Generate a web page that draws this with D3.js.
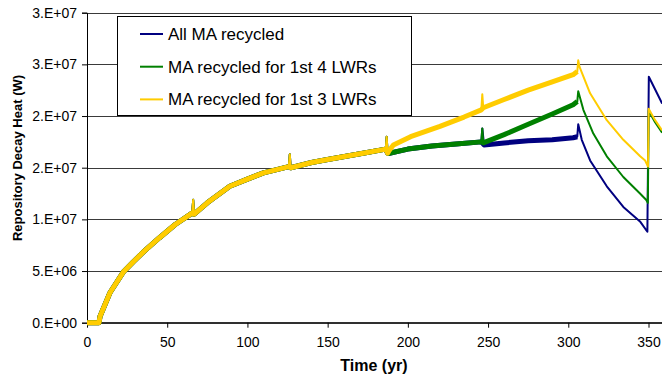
<!DOCTYPE html>
<html>
<head>
<meta charset="utf-8">
<script src="https://cdn.jsdelivr.net/npm/d3@7"></script>
<style>
  body { margin: 0; background: #fff; }
  text { font-family: "Liberation Sans", Arial, sans-serif; }
</style>
</head>
<body>
<svg class="chart" width="662" height="376"></svg>
<script>
// [year, decay heat in W].
// Up to ~187 yr all three scenarios give the same repository heat.
const sharedRamp = [
  [0, 0], [7.5, 0], [8.1, 0.6e6], [14.3, 2.9e6], [22.6, 4.9e6], [28.9, 5.9e6],
  [36.2, 7.0e6], [45, 8.2e6], [55, 9.5e6], [65.5, 10.6e6], [66.2, 11.9e6],
  [66.8, 10.5e6], [75, 11.6e6], [89, 13.2e6], [100, 13.9e6], [110, 14.5e6],
  [125.8, 15.1e6], [126.4, 16.3e6], [127, 15.0e6], [140, 15.5e6], [150, 15.8e6],
  [172, 16.4e6], [186.2, 16.8e6], [186.8, 18.0e6], [187.4, 16.4e6]
];

const allMaTail = [
  [188.5, 16.4e6], [200, 16.8e6], [215, 17.1e6], [230, 17.3e6], [245.8, 17.5e6],
  [246.4, 18.8e6], [247.5, 17.2e6], [260, 17.4e6], [275, 17.6e6], [290, 17.7e6],
  [303, 17.9e6], [305.6, 18.0e6], [306.2, 19.2e6], [308.4, 17.7e6], [313.6, 15.7e6],
  [324, 13.2e6], [334.3, 11.2e6], [344.7, 9.8e6], [349.3, 8.8e6], [350.2, 23.8e6],
  [358.5, 21.2e6]
];

const ma4Tail = [
  [188.5, 16.4e6], [200, 16.8e6], [215, 17.1e6], [230, 17.3e6], [245.8, 17.5e6],
  [246.4, 18.8e6], [247, 17.4e6], [260, 18.2e6], [275, 19.2e6], [290, 20.2e6],
  [303, 21.1e6], [305.6, 21.4e6], [306.2, 22.4e6], [309.4, 20.6e6], [315.6, 18.3e6],
  [324, 16.1e6], [334.3, 14.1e6], [344.7, 12.5e6], [348.5, 11.9e6], [349.6, 11.6e6],
  [350.1, 20.5e6], [354.1, 19.4e6], [358.5, 18.4e6]
];

const ma3Tail = [
  [188.5, 16.7e6], [191, 17.2e6], [201.7, 18.0e6], [220, 19.0e6], [235, 19.9e6],
  [245.8, 20.6e6], [246.4, 22.1e6], [247, 20.8e6], [260, 21.6e6], [275, 22.5e6],
  [290, 23.3e6], [303, 24.0e6], [305.6, 24.3e6], [306.2, 25.4e6], [306.9, 24.8e6],
  [313.6, 22.2e6], [324, 19.6e6], [334.3, 17.7e6], [344.8, 16.1e6], [347.9, 15.7e6],
  [349.7, 15.1e6], [350.1, 20.7e6], [354.1, 19.6e6], [358.5, 18.6e6]
];

// years at which a reload spike shows on the curves
const spikeYears = [66.2, 126.4, 186.8, 246.4, 306.2];

const seriesNames = ["All MA recycled", "MA recycled for 1st 4 LWRs", "MA recycled for 1st 3 LWRs"];
const seriesColors = ["#000080", "#008000", "#FFCC00"];
const yTicks = [0, 5e6, 1e7, 1.5e7, 2e7, 2.5e7, 3e7];
const xTicks = [0, 50, 100, 150, 200, 250, 300, 350];

const series = [allMaTail, ma4Tail, ma3Tail].map((tail, i) => {
  return { name: seriesNames[i], color: seriesColors[i], values: sharedRamp.concat(tail) };
});

const svg = d3.select(".chart");
const width = 662;

const x = d3.scaleLinear().domain([0, 350]).range([87, 648.5]);
const y = d3.scaleLinear().domain([0, 3e7]).range([322.7, 12.7]);

// Excel style "0.E+00" labels
function sci(v) {
  if (v === 0) return "0.E+00";
  const e = Math.floor(Math.log10(v));
  let m = Math.round(v / Math.pow(10, e));
  return `${m}.E+${String(e).padStart(2, "0")}`;
}

//horizontal gridlines
svg.append("g")
  .selectAll("line")
  .data(yTicks)
  .enter()
  .append("line")
  .attr("x1", x(0))
  .attr("x2", width)
  .attr("y1", d => Math.round(y(d)) + 0.5)
  .attr("y2", d => Math.round(y(d)) + 0.5)
  .attr("stroke", "#3a3a3a")
  .attr("stroke-width", 1);

// y axis
const yAxis = svg.append("g")
  .attr("transform", `translate(${x(0)},0)`)
  .call(d3.axisLeft(y).tickValues(yTicks).tickFormat(sci).tickSize(5).tickPadding(5));

// x axis
const xAxis = svg.append("g")
  .attr("transform", `translate(0,${y(0)})`)
  .call(d3.axisBottom(x).tickValues(xTicks).tickFormat(d3.format("d")).tickSize(5).tickPadding(9));
xAxis.select(".domain").attr("d", `M${x(0)},0H${width}`);

[yAxis, xAxis].forEach(ax => {
  ax.select(".domain").attr("stroke", "#000");
  ax.selectAll(".tick line").attr("stroke", "#000");
  ax.selectAll(".tick text")
    .attr("font-family", "Liberation Sans, Arial, sans-serif")
    .attr("font-size", "14px")
    .attr("fill", "#000");
});

// curves: the noisy loading phase is drawn as a thicker band,
// spikes and the decay after the last load stay thin
const line = d3.line()
  .x(d => x(d[0]))
  .y(d => y(d[1]));

const curves = svg.append("g");
series.forEach(s => {
  const band = s.values.filter(d => d[0] < 306.2 && spikeYears.indexOf(d[0]) < 0);
  curves.append("path")
    .attr("d", line(band))
    .attr("fill", "none")
    .attr("stroke", s.color)
    .attr("stroke-width", 5)
    .attr("stroke-linejoin", "round");
  curves.append("path")
    .attr("d", line(s.values))
    .attr("fill", "none")
    .attr("stroke", s.color)
    .attr("stroke-width", 2)
    .attr("stroke-linejoin", "round");
});

// legend
const legend = svg.append("g");
legend.append("rect")
  .attr("x", 117.5)
  .attr("y", 16.5)
  .attr("width", 294)
  .attr("height", 99)
  .attr("fill", "#fff")
  .attr("stroke", "#000")
  .attr("stroke-width", 1);

const items = legend.selectAll(".item")
  .data(series)
  .enter()
  .append("g")
  .attr("class", "item")
  .attr("transform", (d, i) => `translate(0, ${34 + i * 32.7})`);

items.append("line")
  .attr("x1", 140)
  .attr("x2", 163)
  .attr("stroke", d => d.color)
  .attr("stroke-width", 2);

items.append("text")
  .attr("x", 168)
  .attr("y", 6)
  .attr("font-size", "17px")
  .text(d => d.name);

// axis titles
svg.append("text")
  .attr("x", 374)
  .attr("y", 371)
  .attr("text-anchor", "middle")
  .attr("font-size", "16px")
  .attr("font-weight", "bold")
  .text("Time (yr)");

svg.append("text")
  .attr("transform", "translate(22,158) rotate(-90)")
  .attr("text-anchor", "middle")
  .attr("font-size", "13px")
  .attr("font-weight", "bold")
  .text("Repository Decay Heat (W)");
</script>
</body>
</html>
